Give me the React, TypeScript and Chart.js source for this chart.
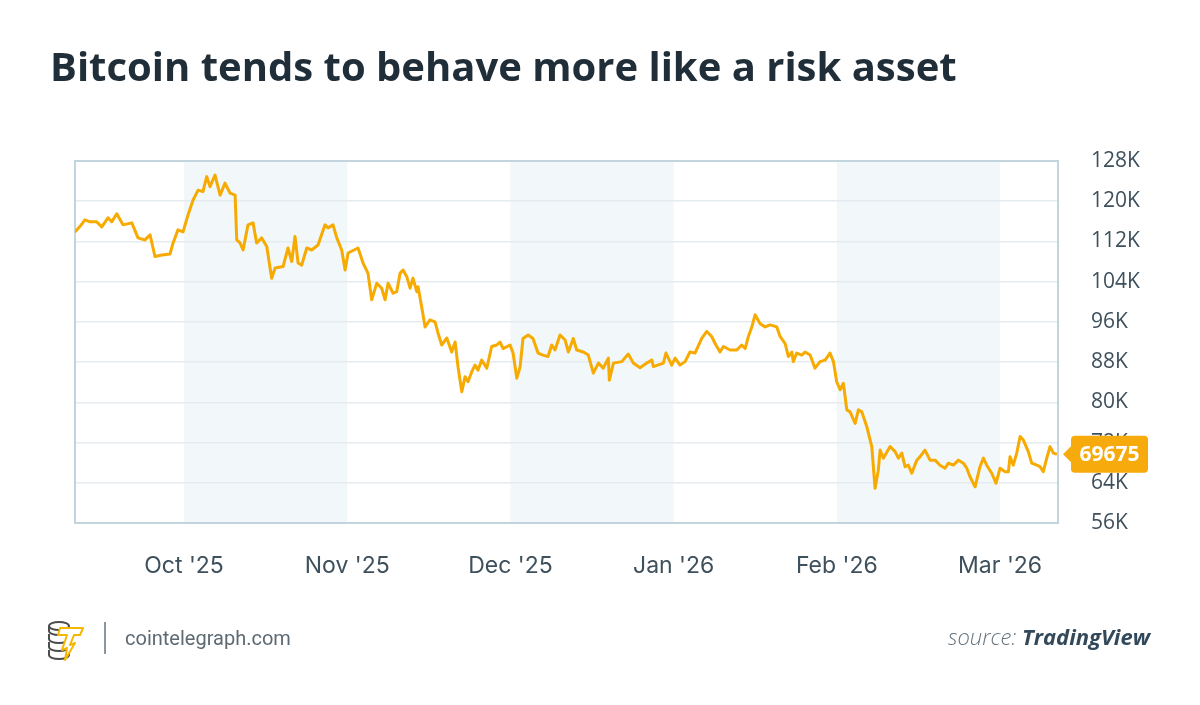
import React, { useEffect, useRef } from "react";
import { Chart, registerables } from "chart.js";

Chart.register(...registerables);

// ---------- data ----------
// time in months since 1 Oct 2025 (0 = Oct '25, 1 = Nov '25, ...)
const monthLabels = ["Oct '25", "Nov '25", "Dec '25", "Jan '26", "Feb '26", "Mar '26"];
const monthTicks = [0, 1, 2, 3, 4, 5];
const shadedMonths = [0, 2, 4];
const yTicks = [56, 64, 72, 80, 88, 96, 104, 112, 120, 128];
const timeRange = [-0.668, 5.355];

const times = [
  -0.668, -0.637, -0.607, -0.576, -0.535, -0.504, -0.466, -0.443, -0.412, -0.374,
  -0.32, -0.282, -0.239, -0.208, -0.178, -0.135, -0.086, -0.067, -0.037, -0.006,
  0.025, 0.055, 0.086, 0.116, 0.139, 0.159, 0.19, 0.221, 0.251, 0.282,
  0.313, 0.323, 0.343, 0.362, 0.392, 0.423, 0.445, 0.476, 0.507, 0.537,
  0.558, 0.607, 0.637, 0.66, 0.68, 0.699, 0.721, 0.752, 0.782, 0.821,
  0.864, 0.882, 0.913, 0.936, 0.966, 0.987, 1.005, 1.066, 1.097, 1.127,
  1.15, 1.181, 1.211, 1.232, 1.25, 1.281, 1.303, 1.324, 1.342, 1.365,
  1.385, 1.403, 1.426, 1.434, 1.457, 1.477, 1.507, 1.538, 1.556, 1.579,
  1.61, 1.64, 1.661, 1.679, 1.702, 1.722, 1.74, 1.763, 1.783, 1.801,
  1.824, 1.855, 1.885, 1.916, 1.936, 1.955, 1.998, 2.016, 2.039, 2.059,
  2.077, 2.108, 2.138, 2.169, 2.2, 2.23, 2.253, 2.273, 2.304, 2.335,
  2.355, 2.385, 2.406, 2.447, 2.477, 2.508, 2.539, 2.569, 2.6, 2.606,
  2.631, 2.682, 2.722, 2.753, 2.794, 2.835, 2.866, 2.876, 2.937, 2.953,
  2.988, 3.009, 3.039, 3.07, 3.1, 3.131, 3.172, 3.203, 3.233, 3.254,
  3.284, 3.305, 3.346, 3.387, 3.417, 3.438, 3.458, 3.479, 3.499, 3.529,
  3.56, 3.591, 3.632, 3.652, 3.683, 3.703, 3.724, 3.733, 3.754, 3.785,
  3.805, 3.836, 3.866, 3.897, 3.928, 3.958, 3.979, 3.999, 4.02, 4.04,
  4.061, 4.081, 4.112, 4.132, 4.153, 4.183, 4.214, 4.234, 4.254, 4.265,
  4.285, 4.326, 4.357, 4.377, 4.398, 4.418, 4.438, 4.459, 4.49, 4.51,
  4.54, 4.571, 4.602, 4.632, 4.663, 4.683, 4.714, 4.745, 4.775, 4.796,
  4.816, 4.847, 4.877, 4.898, 4.918, 4.949, 4.975, 5.0, 5.031, 5.051,
  5.061, 5.081, 5.102, 5.123, 5.143, 5.173, 5.194, 5.225, 5.245, 5.265,
  5.286, 5.306, 5.327, 5.348,
];

// BTC price, thousands of USD
const prices = [
  113.9, 115.0, 116.3, 115.9, 115.9, 114.9, 116.7, 115.9, 117.5, 115.3,
  115.7, 112.7, 112.3, 113.3, 109.0, 109.3, 109.5, 111.7, 114.3, 113.9,
  117.3, 120.2, 122.2, 121.9, 124.9, 122.9, 125.2, 121.2, 123.6, 121.6,
  121.2, 112.3, 111.7, 110.3, 115.3, 115.7, 111.7, 112.7, 111.0, 104.7,
  106.7, 107.0, 110.7, 108.0, 113.0, 107.7, 107.3, 110.7, 110.3, 111.3,
  115.3, 114.7, 115.3, 112.7, 110.3, 106.3, 109.7, 110.7, 107.7, 105.7,
  100.4, 103.7, 102.7, 100.4, 103.7, 101.7, 102.0, 105.7, 106.3, 105.0,
  102.7, 104.7, 102.0, 103.0, 98.8, 95.0, 96.4, 96.0, 93.8, 91.4,
  92.8, 90.0, 92.0, 87.0, 82.1, 85.1, 84.1, 86.1, 87.4, 86.4,
  88.4, 86.8, 91.1, 91.4, 92.0, 90.7, 91.4, 89.8, 84.8, 87.0,
  92.7, 93.4, 92.7, 89.8, 89.4, 89.1, 91.4, 90.4, 93.4, 92.4,
  90.0, 92.7, 90.4, 90.0, 89.4, 85.8, 87.8, 86.8, 88.8, 84.4,
  87.8, 88.1, 89.6, 87.8, 86.9, 87.8, 88.4, 87.1, 87.8, 89.8,
  87.4, 88.8, 87.4, 88.1, 90.0, 89.8, 92.7, 94.1, 93.1, 91.7,
  90.0, 91.1, 90.4, 90.4, 91.4, 90.7, 93.1, 95.0, 97.4, 95.7,
  95.0, 95.4, 95.0, 93.1, 91.7, 89.1, 90.0, 88.1, 89.8, 89.4,
  90.0, 89.4, 86.8, 88.1, 88.4, 89.8, 88.1, 84.1, 82.5, 83.8,
  78.5, 78.1, 75.8, 78.5, 78.1, 75.2, 71.2, 62.9, 66.5, 70.5,
  68.9, 71.2, 70.2, 68.9, 69.9, 67.2, 67.5, 65.9, 68.5, 69.2,
  70.5, 68.5, 68.5, 67.5, 66.9, 67.9, 67.5, 68.5, 67.9, 66.9,
  65.2, 63.2, 67.2, 68.9, 67.5, 65.9, 63.9, 66.9, 66.2, 66.2,
  69.2, 67.5, 69.9, 73.2, 72.5, 70.2, 67.9, 67.5, 67.2, 66.2,
  68.9, 71.2, 69.9, 69.675,
];

// ---------- styles ----------
const LINE_COLOR = "#F7AA00";
const TAG_COLOR = "#F6AA0C";
const TEXT_COLOR = "#3e505c";
const GRID_COLOR = "#e4ecf0";
const FRAME_COLOR = "#c2d5de";
const BAND_COLOR = "#f2f7f9";

const bandsPlugin = {
  id: "bands",
  beforeDraw(chart: any) {
    const { ctx, chartArea, scales } = chart;
    const x = scales.x;
    ctx.save();
    ctx.fillStyle = BAND_COLOR;
    for (const s of shadedMonths) {
      const x0 = Math.max(chartArea.left, x.getPixelForValue(s));
      const x1 = Math.min(chartArea.right, x.getPixelForValue(s + 1));
      if (x1 > x0) ctx.fillRect(x0, chartArea.top, x1 - x0, chartArea.bottom - chartArea.top);
    }
    ctx.restore();
  },
};

const framePlugin = {
  id: "frame",
  beforeDatasetsDraw(chart: any) {
    const { ctx, chartArea } = chart;
    ctx.save();
    ctx.strokeStyle = FRAME_COLOR;
    ctx.lineWidth = 2;
    ctx.strokeRect(chartArea.left, chartArea.top, chartArea.right - chartArea.left, chartArea.bottom - chartArea.top);
    ctx.restore();
  },
};

const priceTagPlugin = {
  id: "priceTag",
  afterDraw(chart: any) {
    const { ctx, chartArea, scales } = chart;
    const last = prices[prices.length - 1];
    const y = scales.y.getPixelForValue(last);
    const tip = chartArea.right + 5;
    const left = chartArea.right + 13;
    const w = 77;
    const h = 37;
    const r = 4;
    const top = y - h / 2;
    ctx.save();
    ctx.fillStyle = TAG_COLOR;
    ctx.beginPath();
    ctx.moveTo(tip, y);
    ctx.lineTo(left, y - 8);
    ctx.lineTo(left, top + r);
    ctx.quadraticCurveTo(left, top, left + r, top);
    ctx.lineTo(left + w - r, top);
    ctx.quadraticCurveTo(left + w, top, left + w, top + r);
    ctx.lineTo(left + w, top + h - r);
    ctx.quadraticCurveTo(left + w, top + h, left + w - r, top + h);
    ctx.lineTo(left + r, top + h);
    ctx.quadraticCurveTo(left, top + h, left, top + h - r);
    ctx.lineTo(left, y + 8);
    ctx.closePath();
    ctx.fill();
    ctx.fillStyle = "#ffffff";
    ctx.font = "bold 21px 'Open Sans'";
    ctx.textAlign = "center";
    ctx.textBaseline = "middle";
    ctx.fillText(String(Math.round(last * 1000)), left + w / 2, y + 1);
    ctx.restore();
  },
};

function Logo() {
  return (
    <svg width="40" height="42" viewBox="0 0 40 42" style={{ position: "absolute", left: 46, top: 620 }}>
      <g fill="#fff" stroke="#4d4d4d" strokeWidth="2">
        <path d="M3 30 v5 a10 4 0 0 0 20 0 v-5" />
        <path d="M3 22 v5 a10 4 0 0 0 20 0 v-5" />
        <path d="M3 14 v5 a10 4 0 0 0 20 0 v-5" />
        <path d="M3 6 v5 a10 4 0 0 0 20 0 v-5" />
        <ellipse cx="13" cy="6" rx="10" ry="4" />
      </g>
      <path
        d="M14 8 H37 L34 15 H28 L24 25 L29 23 L19 40 L21 28 L16 30 L21 15 H12 Z"
        fill="#fff"
        stroke="#F5B800"
        strokeWidth="2"
        strokeLinejoin="round"
      />
    </svg>
  );
}

export default function App() {
  const canvasRef = useRef<HTMLCanvasElement | null>(null);

  useEffect(() => {
    const canvas = canvasRef.current;
    if (!canvas) return;
    const chart = new Chart(canvas, {
      type: "line",
      data: {
        datasets: [
          {
            data: times.map((t, i) => ({ x: t, y: prices[i] })),
            borderColor: LINE_COLOR,
            borderWidth: 3,
            pointRadius: 0,
            tension: 0,
            fill: false,
            borderJoinStyle: "round",
          },
        ],
      },
      options: {
        animation: false,
        responsive: false,
        maintainAspectRatio: false,
        layout: { padding: { left: 75, top: 161, right: 42, bottom: 122 } },
        plugins: { legend: { display: false }, tooltip: { enabled: false } },
        scales: {
          x: {
            type: "linear",
            min: timeRange[0],
            max: timeRange[1],
            grid: { display: false },
            border: { display: false },
            afterBuildTicks: (s: any) => {
              s.ticks = monthTicks.map((v) => ({ value: v }));
            },
            afterFit: (s: any) => {
              s.height = 60;
            },
            ticks: {
              autoSkip: false,
              maxRotation: 0,
              padding: 21,
              color: TEXT_COLOR,
              font: { family: "Inter", size: 23 },
              callback: (v: any) => {
                const i = monthTicks.indexOf(Number(v));
                return i >= 0 ? monthLabels[i] : "";
              },
            },
          },
          y: {
            position: "right",
            min: 56,
            max: 128,
            afterBuildTicks: (s: any) => {
              s.ticks = yTicks.map((v) => ({ value: v }));
            },
            afterFit: (s: any) => {
              s.width = 100;
            },
            grid: { color: GRID_COLOR, lineWidth: 1.5, drawTicks: false },
            border: { display: false },
            ticks: {
              padding: 33,
              color: TEXT_COLOR,
              font: { family: "'Open Sans'", size: 21 },
              callback: (v: any) => `${v}K`,
            },
          },
        },
      } as any,
      plugins: [bandsPlugin, framePlugin, priceTagPlugin],
    });
    return () => chart.destroy();
  }, []);

  return (
    <div
      style={{
        position: "fixed",
        left: 0,
        top: 0,
        width: 1200,
        height: 705,
        background: "#ffffff",
        overflow: "hidden",
      }}
    >
      <canvas
        ref={canvasRef}
        width={1200}
        height={705}
        style={{ position: "absolute", left: 0, top: 0, width: 1200, height: 705 }}
      />
      <div
        style={{
          position: "absolute",
          left: 50,
          top: 46,
          fontFamily: "'Open Sans', sans-serif",
          fontWeight: 700,
          fontSize: 40,
          lineHeight: 1,
          color: "#1f2e38",
          whiteSpace: "nowrap",
        }}
      >
        Bitcoin tends to behave more like a risk asset
      </div>
      <Logo />
      <div
        style={{
          position: "absolute",
          left: 104,
          top: 622,
          width: 1.5,
          height: 32,
          background: "#8c969c",
        }}
      />
      <div
        style={{
          position: "absolute",
          left: 125,
          top: 628,
          fontFamily: "Roboto, sans-serif",
          fontSize: 20,
          lineHeight: 1,
          color: "#5d6a73",
          whiteSpace: "nowrap",
        }}
      >
        cointelegraph.com
      </div>
      <div
        style={{
          position: "absolute",
          right: 50,
          top: 625,
          fontFamily: "'Open Sans', sans-serif",
          fontStyle: "italic",
          fontSize: 22,
          lineHeight: 1,
          whiteSpace: "nowrap",
        }}
      >
        <span style={{ fontWeight: 300, color: "#66737c" }}>source: </span>
        <span style={{ fontWeight: 700, color: "#33495a" }}>TradingView</span>
      </div>
    </div>
  );
}
